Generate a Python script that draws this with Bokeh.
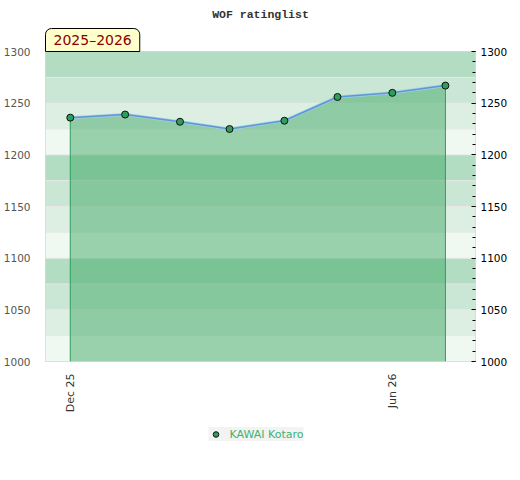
import pandas as pd
from math import pi
from bokeh.plotting import figure
from bokeh.layouts import column
from bokeh.models import (Range1d, LinearAxis, SingleIntervalTicker, FixedTicker,
                          DatetimeTickFormatter, BoxAnnotation, Span, Title, Legend, LegendItem)
from bokeh.embed import file_html
from bokeh.resources import INLINE

# ---- data ----
months = ["2025-12-01", "2026-01-01", "2026-02-01", "2026-03-01",
          "2026-04-01", "2026-05-01", "2026-06-01", "2026-07-01"]
ratings = [1236, 1239, 1232, 1225, 1233, 1256, 1260, 1267]
player = "KAWAI Kotaro"
season = "2025–2026"
title_text = "WOF ratinglist"
x_tick_dates = ["2025-12-01", "2026-06-01"]
x_start, x_end = "2025-11-17", "2026-07-18"
y_min, y_max = 1000, 1300
band_step = 25
band_colors = ["#f0f8f2", "#ddefe3", "#cae6d5", "#b3ddc3"]

dates = pd.to_datetime(months)
x_rng = Range1d(pd.Timestamp(x_start), pd.Timestamp(x_end))
p = figure(frame_width=430, frame_height=310, x_axis_type="datetime",
           x_range=x_rng, y_range=Range1d(y_min, y_max),
           output_backend="svg", toolbar_location=None,
           min_border_left=37, min_border_right=37, min_border_top=0,
           min_border_bottom=0, background_fill_color="white")

p.title.text = title_text
p.title.align = "center"
p.title.text_font = "Liberation Mono"
p.title.text_font_size = "11.5px"
p.title.text_font_style = "bold"
p.title.text_color = "#333333"
p.title.standoff = 11

season_title = Title(text=season, align="left", text_font="DejaVu Sans",
                     text_font_size="14px", text_font_style="normal",
                     text_color="#8b0000", background_fill_color="#ffffcc",
                     border_line_color="black", border_line_width=1,
                     padding=dict(left=8, right=8, top=3, bottom=4),
                     border_radius=dict(top_left=6, top_right=6,
                                        bottom_right=0, bottom_left=0),
                     standoff=0)
p.add_layout(season_title, "above")

p.outline_line_color = "#d9d9d9"
p.xgrid.visible = False
p.ygrid.visible = False

# bands
n_bands = (y_max - y_min) // band_step
for i in range(n_bands):
    lo = y_min + i * band_step
    p.add_layout(BoxAnnotation(bottom=lo, top=lo + band_step,
                               fill_color=band_colors[i % 4], fill_alpha=1.0,
                               line_color=None, level="underlay"))
for i in range(1, n_bands):
    p.add_layout(Span(location=y_min + i * band_step, dimension="width",
                      line_color="#e6e8e6", line_width=1, level="underlay"))

# area
p.varea(x=dates, y1=[y_min] * len(dates), y2=ratings,
        fill_color="#37a65f", fill_alpha=0.47)
p.segment(x0=[dates[0], dates[-1]], y0=[y_min, y_min],
          x1=[dates[0], dates[-1]], y1=[ratings[0], ratings[-1]],
          line_color="#2e9e5b", line_width=1)
p.line(dates, ratings, line_color="#a9cbe6", line_width=3)
p.line(dates, ratings, line_color="#5a9ad4", line_width=1.5)
p.scatter(dates, ratings, size=7, fill_color="#2e9e5b",
          line_color="#111111", line_width=1)

# axes
ya = p.yaxis[0]
ya.ticker = SingleIntervalTicker(interval=50)
ya.major_tick_line_color = None
ya.minor_tick_line_color = None
ya.axis_line_color = None
ya.major_label_text_color = "#555555"
ya.major_label_text_font = "DejaVu Sans"
ya.major_label_text_font_size = "10.5px"
ya.major_label_standoff = 9

ra = LinearAxis(ticker=SingleIntervalTicker(interval=50, num_minor_ticks=5))
ra.axis_line_color = None
ra.major_tick_in = 4
ra.major_tick_out = 0
ra.minor_tick_in = 3
ra.minor_tick_out = 0
ra.major_tick_line_color = "black"
ra.minor_tick_line_color = "black"
ra.major_label_text_color = "black"
ra.major_label_text_font = "DejaVu Sans"
ra.major_label_text_font_size = "10.5px"
ra.major_label_standoff = 5
p.add_layout(ra, "right")

xa = p.xaxis[0]
xa.ticker = FixedTicker(ticks=[pd.Timestamp(d).value / 1e6 for d in x_tick_dates])
fmt = "%b %y"
xa.formatter = DatetimeTickFormatter(milliseconds=fmt, seconds=fmt, minsec=fmt,
                                     minutes=fmt, hourmin=fmt, hours=fmt, days=fmt,
                                     months=fmt, years=fmt)
xa.major_label_orientation = pi / 2
xa.major_tick_line_color = None
xa.minor_tick_line_color = None
xa.axis_line_color = None
xa.major_label_text_color = "#333333"
xa.major_label_text_font = "DejaVu Sans"
xa.major_label_text_font_size = "11px"
xa.major_label_standoff = 6

# legend strip (separate small figure below the chart); its series is drawn
# outside that strip's visible ranges so only the legend entry shows
q = figure(width=504, height=50, x_range=Range1d(0, 1), y_range=Range1d(0, 1),
           output_backend="svg", toolbar_location=None,
           x_axis_location=None, y_axis_location=None,
           min_border_left=0, min_border_right=0, min_border_top=0,
           min_border_bottom=0)
q.outline_line_color = None
q.xgrid.visible = False
q.ygrid.visible = False
leg_r = q.scatter(x=dates, y=ratings, size=7, fill_color="#2e9e5b",
                  line_color="#111111", line_width=1)
legend = Legend(items=[LegendItem(label=player, renderers=[leg_r])],
                location="top_center", orientation="horizontal",
                background_fill_color="#f2f2f2", border_line_color=None,
                label_text_color="#3cb371", label_text_font="DejaVu Sans",
                label_text_font_size="11px", glyph_width=14, glyph_height=14,
                label_height=14, label_standoff=7, padding=6, margin=12)
q.add_layout(legend)

open("out.html", "w").write(file_html(column(p, q), INLINE))
